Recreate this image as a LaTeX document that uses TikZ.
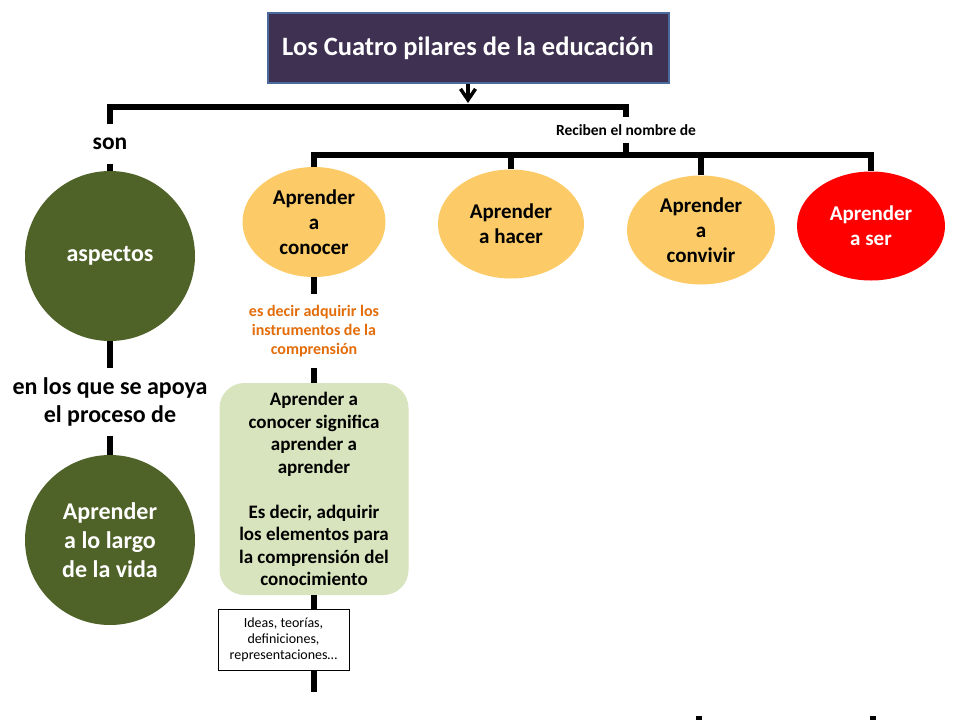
\documentclass[tikz,border=0pt]{standalone}
\usepackage{fontspec}
\setmainfont{Carlito}
\usetikzlibrary{arrows.meta,shapes.geometric}
\definecolor{titulo}{HTML}{3F3151}
\definecolor{borde}{HTML}{4A6A9B}
\definecolor{oliva}{HTML}{4F6228}
\definecolor{amarillo}{HTML}{FCCB67}
\definecolor{naranja}{HTML}{E36C09}
\definecolor{verdeclaro}{HTML}{D7E4BD}
\begin{document}
\begin{tikzpicture}[x=1pt, y=-1pt, font=\bfseries,
  barra/.style={line width=6pt},
  pilar/.style={ellipse, fill=amarillo, minimum width=146pt, minimum height=109pt, inner sep=0pt, align=center, font=\bfseries\fontsize{21}{25}\selectfont},
  circulo/.style={circle, fill=oliva, minimum size=170pt, inner sep=0pt, text=white, align=center},
  texto/.style={inner sep=0pt, align=center}]
\useasboundingbox (0,0) rectangle (960,720);
\node[draw=borde, line width=2pt, fill=titulo, text=white, minimum width=401pt, minimum height=70pt, font=\bfseries\fontsize{26.5}{30}\selectfont] (titulo) at (468,48) {Los Cuatro pilares de la educación};
\coordinate (b1) at (468,107);
\draw[-{Straight Barb[length=11pt,width=15pt]}, line width=3.5pt] (titulo.south) -- (468,103);
\node[texto, minimum height=39pt, font=\bfseries\fontsize{23.5}{26}\selectfont] (son) at (110,144) {son};
\node[texto, minimum height=26pt, font=\bfseries\fontsize{15.5}{18}\selectfont] (reciben) at (626,130) {Reciben el nombre de};
\draw[barra] (son.north) |- (b1) -| (reciben.north);
\node[circulo, font=\bfseries\fontsize{24}{27}\selectfont] (aspectos) at (110,256) {aspectos};
\node[texto, minimum height=67pt, font=\bfseries\fontsize{24}{28}\selectfont] (apoya) at (110,402) {en los que se apoya\\el proceso de};
\node[circulo, font=\bfseries\fontsize{24}{29}\selectfont] (vida) at (110,540) {Aprender\\a lo largo\\de la vida};
\draw[barra] (son.south) -- (aspectos.north);
\draw[barra] (aspectos.south) -- (apoya.north);
\draw[barra] (apoya.south) -- (vida.north);
\node[pilar, minimum width=143pt, minimum height=110pt] (conocer) at (314,222) {Aprender\\a\\conocer};
\node[pilar] (hacer) at (511,224) {Aprender\\a hacer};
\node[pilar, minimum width=148pt] (convivir) at (701,230) {Aprender\\a\\convivir};
\node[pilar, minimum width=148pt, fill=red, text=white] (ser) at (871,226) {Aprender\\a ser};
\coordinate (b2) at (626,155);
\draw[barra] (reciben.south) -- (b2);
\draw[barra] (conocer.north) |- (b2) -| (ser.north);
\draw[barra] (hacer.north) -- (hacer.north |- b2);
\draw[barra] (convivir.north) -- (convivir.north |- b2);
\node[texto, minimum height=74pt, text=naranja, font=\bfseries\fontsize{16}{19}\selectfont] (decir) at (314,331) {es decir adquirir los\\instrumentos de la\\comprensión};
\draw[barra] (conocer.south) -- (decir.north);
\node[texto, fill=verdeclaro, rounded corners=25pt, minimum width=189pt, minimum height=212pt, font=\bfseries\fontsize{19}{22.5}\selectfont] (significa) at (314,489) {Aprender a\\conocer significa\\aprender a\\aprender\\[22.5pt]Es decir, adquirir\\los elementos para\\la comprensión del\\conocimiento};
\draw[barra] (decir.south) -- (significa.north);
\node[draw, line width=0.8pt, fill=white, minimum width=131pt, minimum height=61pt, inner sep=0pt, align=center, font=\fontsize{14}{16}\selectfont] (ideas) at (283.5,639.5) {Ideas, teorías,\\definiciones,\\representaciones…};
\coordinate (fin1) at (314,692);
\draw[barra] (significa.south) -- (significa.south |- ideas.north);
\draw[barra] (ideas.south -| significa.south) -- (fin1);
\coordinate (fin2) at (699,716);
\coordinate (fin3) at (873,716);
\draw[barra] (fin2) -- ++(0,4);
\draw[barra] (fin3) -- ++(0,4);
\end{tikzpicture}
\end{document}
